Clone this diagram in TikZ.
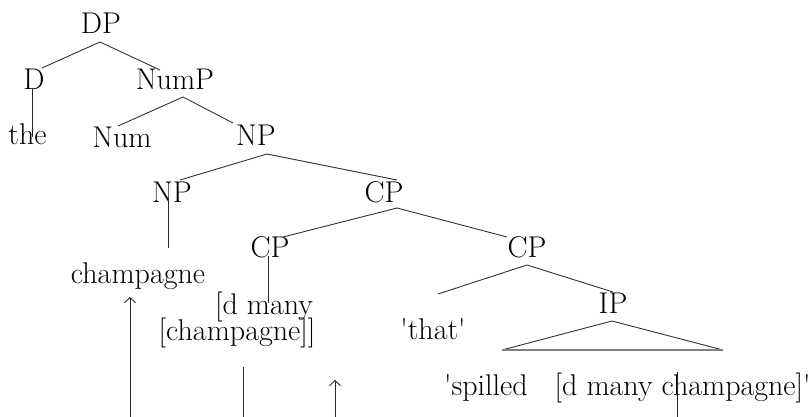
\documentclass[tikz,border=0pt]{standalone}
\usepackage{fontspec}
\newfontfamily\treefont{Latin Modern Roman}
\newcommand\tf{\treefont\fontsize{30}{30}\selectfont}
\usetikzlibrary{arrows.meta,calc}
\begin{document}
\begin{tikzpicture}[x=1pt,y=-1pt,
  lbl/.style={anchor=base,inner sep=0pt,outer sep=0pt},
  branch/.style={draw=black!80,line width=0.9pt},
  trace/.style={draw=black!85,line width=0.9pt},
  uparrow/.style={trace,-{Straight Barb[length=5pt,width=11pt]}},
  roof/.style={draw=black!50,line width=1.5pt}]
\useasboundingbox (0,0) rectangle (811,417);

% tree labels (positions are baselines)
\node[lbl] (DP)   at (101,34)  {\tf DP};
\node[lbl] (D)    at (34,90)   {\tf D};
\node[lbl] (NumP) at (175,90)  {\tf NumP};
\node[lbl] (the)  at (27.5,145) {\tf the};
\node[lbl] (Num)  at (122,147) {\tf Num};
\node[lbl] (NPa)  at (256,146) {\tf NP};
\node[lbl] (NPb)  at (172,202) {\tf NP};
\node[lbl] (CPa)  at (384,202) {\tf CP};
\node[lbl] (champ) at (138,283) {\tf champagne};
\node[lbl] (CPb)  at (270,257) {\tf CP};
\node[lbl] (CPc)  at (527,257) {\tf CP};
\node[lbl] (dmany) at (264,314) {\tf [d many};
\node[lbl] (dmanyb) at (237,340) {\tf [champagne]]};
\node[lbl] (that) at (433,339) {\tf 'that'};
\node[lbl] (IP)   at (613,313) {\tf IP};
\node[lbl,anchor=base west] (spilled) at (444,395)
  {\tf 'spilled\hspace{27pt}[d many champagne]'};

% branches
\draw[branch] ($(D.base)+(8,-22)$) -- ($(DP.base)+(-1,8)$) -- ($(NumP.base)+(-15,-20)$);
\draw[trace]  ($(D.base)+(-2,-2)$) -- ($(the.base)+(4.5,-8)$);
\draw[branch] ($(Num.base)+(-4,-21)$) -- ($(NumP.base)+(8,7)$) -- ($(NPa.base)+(-23,-23)$);
\draw[branch] ($(NPb.base)+(8,-22)$) -- ($(NPa.base)+(11,8)$) -- ($(CPa.base)+(13,-22)$);
\draw[trace]  ($(NPb.base)+(-4,-2)$) -- ($(champ.base)+(30,-35)$);
\draw[branch] ($(CPb.base)+(13,-20)$) -- ($(CPa.base)+(13,6)$) -- ($(CPc.base)+(-20,-20)$);
\draw[trace]  ($(CPb.base)+(-2,-1)$) -- ($(dmany.base)+(4,-11)$);
\coordinate (thatend) at ($(that.base)+(5,-45)$);
\draw[branch] (thatend) -- ($(CPc.base)+(0,8)$) -- ($(IP.base)+(0,-21)$);

% roof over the IP
\coordinate (roofL) at ($(IP.base)+(-111,37)$);
\coordinate (roofR) at ($(IP.base)+(110,37)$);
\draw[branch] (roofL) -- ($(IP.base)+(-1,8)$) -- (roofR);
\draw[roof] (roofL) -- (roofR);

% movement traces running off the bottom edge
\coordinate (b1) at (130,417);
\coordinate (b2) at (243,417);
\coordinate (b3) at (335,417);
\coordinate (b4) at (677,417);
\draw[uparrow] (b1) -- ($(champ.base)+(-8,14)$);
\draw[trace] ($(dmanyb.base)+(6,27)$) -- (b2);
\draw[uparrow] (b3) -- ($(dmanyb.base)+(98,40)$);
\draw[trace] ($(spilled.base west)+(233,-23)$) -- (b4);
\end{tikzpicture}
\end{document}
